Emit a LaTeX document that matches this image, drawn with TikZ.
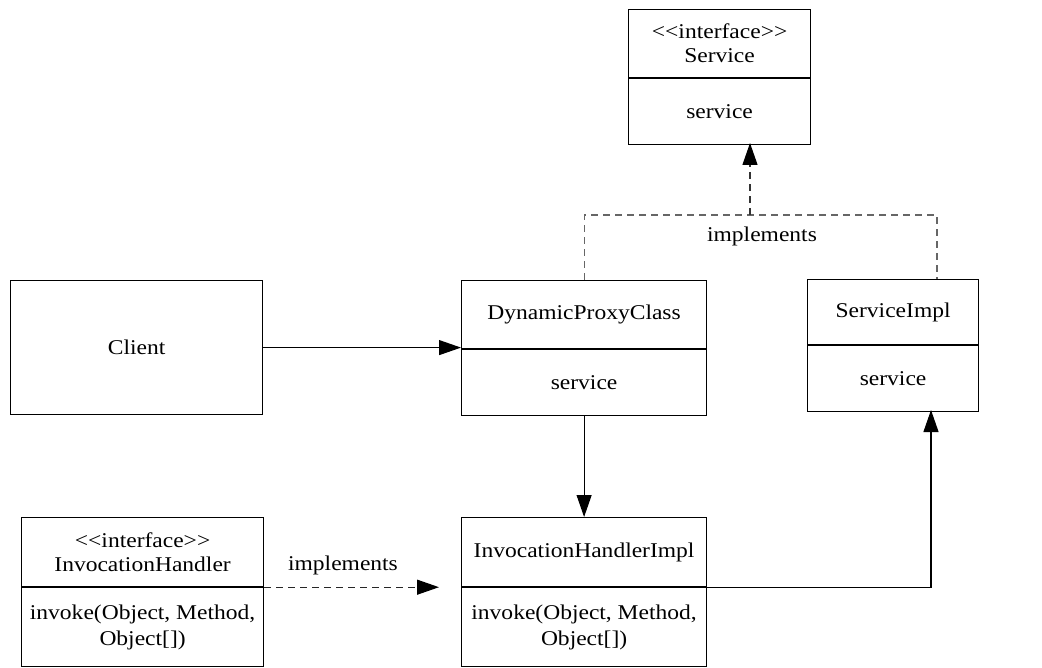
\documentclass[tikz,border=0pt]{standalone}
\usepackage{fontspec}
\setmainfont{Liberation Serif}[FakeStretch=1.12]
\usetikzlibrary{arrows.meta}
\tikzset{
  part/.style={draw=black, line width=1.2pt, inner sep=0pt, align=center,
    anchor=north west, font=\fontsize{21}{24}\selectfont},
  lbl/.style={inner sep=0pt, font=\fontsize{21}{24}\selectfont},
  conn/.style={draw=black, line width=1.1pt},
  dashline/.style={draw=black!60, line width=1.2pt, dash pattern=on 7pt off 5pt},
  tip/.style={-{Triangle[length=22pt,width=15pt,color=black]}}
}
\newcommand{\lt}{\textless\kern0pt\textless}
\newcommand{\gt}{\textgreater\kern0pt\textgreater}
\begin{document}
\begin{tikzpicture}[x=1pt,y=-1pt]
\useasboundingbox (0,0) rectangle (1042,668);
% Service interface
\node[part, minimum width=182pt, minimum height=68pt] (svcT) at (628,9) {\lt interface\gt\\Service};
\node[part, minimum width=182pt, minimum height=66pt] (svcB) at (svcT.south west) {service};
% DynamicProxyClass
\node[part, minimum width=245pt, minimum height=68pt] (dpcT) at (461,280) {DynamicProxyClass};
\node[part, minimum width=245pt, minimum height=66pt] (dpcB) at (dpcT.south west) {service};
% ServiceImpl
\node[part, minimum width=171pt, minimum height=65pt] (siT) at (807,279) {ServiceImpl};
\node[part, minimum width=171pt, minimum height=66pt] (siB) at (siT.south west) {service};
% Client
\node[part, minimum width=252pt, minimum height=134pt] (client) at (10,280) {Client};
% InvocationHandler
\node[part, minimum width=242pt, minimum height=69pt] (ihT) at (21,517) {\lt interface\gt\\InvocationHandler};
\node[part, minimum width=242pt, minimum height=79pt, font=\fontsize{21}{26}\selectfont] (ihB) at (ihT.south west) {invoke(Object, Method,\\Object[])};
% InvocationHandlerImpl
\node[part, minimum width=245pt, minimum height=69pt] (ihiT) at (461,517) {InvocationHandlerImpl};
\node[part, minimum width=245pt, minimum height=79pt, font=\fontsize{21}{26}\selectfont] (ihiB) at (ihiT.south west) {invoke(Object, Method,\\Object[])};
% helper coordinates
\coordinate (svcIn) at (750,143);
\coordinate (junc) at (750,215);
\coordinate (siUp) at (937,215);
\coordinate (siIn) at (931,410);
% connectors
\draw[conn, tip] (client.east) -- (client.east -| dpcT.west);
\draw[conn, tip] (dpcB.south) -- (ihiT.north);
\draw[conn, tip] (ihiT.south east) -| (siIn);
\draw[dashline, draw=black!85, tip, shorten >=22pt] (ihT.south east) -- (ihiT.south west);
\node[lbl] (impl2) at (343,565) {implements};
\draw[dashline] (dpcT.north) |- (siUp) -- (siUp |- siT.north);
\draw[dashline, draw=black!80, tip] (junc) -- (svcIn);
\node[lbl] (impl1) at (762,236) {implements};
\end{tikzpicture}
\end{document}
